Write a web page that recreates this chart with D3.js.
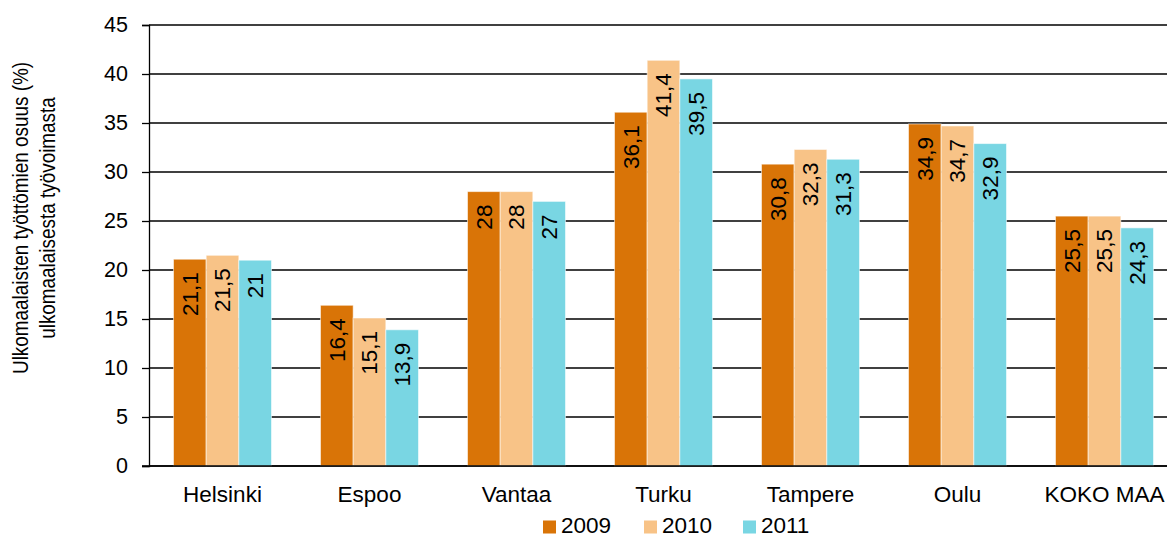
<!DOCTYPE html>
<html>
<head>
<meta charset="utf-8">
<script src="https://cdn.jsdelivr.net/npm/d3@7"></script>
<style>
  html, body { margin: 0; padding: 0; background: #fff; }
  svg { display: block; font-family: "Liberation Sans", Arial, sans-serif; }
</style>
</head>
<body>
<svg id="chart" width="1167" height="537"></svg>
<script>
const categories = ["Helsinki", "Espoo", "Vantaa", "Turku", "Tampere", "Oulu", "KOKO MAA"];
const years = ["2009", "2010", "2011"];
const values2009 = [21.1, 16.4, 28, 36.1, 30.8, 34.9, 25.5];
const values2010 = [21.5, 15.1, 28, 41.4, 32.3, 34.7, 25.5];
const values2011 = [21, 13.9, 27, 39.5, 31.3, 32.9, 24.3];
const yTicks = [0, 5, 10, 15, 20, 25, 30, 35, 40, 45];
const colors = ["#D97407", "#F8C387", "#79D6E3"];
const yTitleLines = ["Ulkomaalaisten työttömien osuus (%)", "ulkomaalaisesta työvoimasta"];

const series = [values2009, values2010, values2011];

const svg = d3.select("#chart");
const plot = { left: 149, right: 1178, top: 25, bottom: 466 };

const x0 = d3.scaleBand().domain(categories).range([plot.left, plot.right]).padding(0);
const groupW = x0.bandwidth() * 2 / 3;
const x1 = d3.scaleBand().domain(years).range([0, groupW]).padding(0);
const y = d3.scaleLinear().domain([0, 45]).range([plot.bottom, plot.top]);

// grid lines
svg.append("g").selectAll("line").data(yTicks).join("line")
  .attr("x1", plot.left).attr("x2", plot.right)
  .attr("y1", d => y(d)).attr("y2", d => y(d))
  .attr("stroke", "#000").attr("stroke-width", 1.3);

// y axis with ticks
const yAxis = d3.axisLeft(y).tickValues(yTicks).tickSize(7).tickFormat(d => d);
const gy = svg.append("g").attr("transform", `translate(${plot.left},0)`).call(yAxis);
gy.select(".domain").attr("stroke", "#000").attr("stroke-width", 1.3);
gy.selectAll(".tick line").attr("stroke", "#000").attr("stroke-width", 1.3);
gy.selectAll(".tick text")
  .attr("font-size", 21.5)
  .attr("fill", "#000")
  .attr("font-family", "Liberation Sans, Arial, sans-serif")
  .attr("x", -21);

// bars
const groups = svg.append("g").selectAll("g").data(categories).join("g")
  .attr("transform", d => `translate(${x0(d) + (x0.bandwidth() - groupW) / 2},0)`);

groups.each(function(cat, ci) {
  const g = d3.select(this);
  years.forEach((yr, si) => {
    const v = series[si][ci];
    g.append("rect")
      .attr("x", x1(yr))
      .attr("y", y(v))
      .attr("width", x1.bandwidth())
      .attr("height", y(0) - y(v))
      .attr("fill", colors[si])
      .attr("stroke", "rgba(255,255,255,0.55)")
      .attr("stroke-width", 1);
    const cx = x1(yr) + x1.bandwidth() / 2;
    g.append("text")
      .attr("transform", `translate(${cx},${y(v) + 13}) rotate(-90)`)
      .attr("text-anchor", "end")
      .attr("dy", "0.35em")
      .attr("font-size", 22.5)
      .attr("fill", "#000")
      .text(String(v).replace(".", ","));
  });
});

// x axis line
svg.append("line")
  .attr("x1", plot.left - 7).attr("x2", plot.right)
  .attr("y1", y(0)).attr("y2", y(0))
  .attr("stroke", "#000").attr("stroke-width", 1.5);

// category labels
svg.append("g").selectAll("text").data(categories).join("text")
  .attr("x", d => x0(d) + x0.bandwidth() / 2)
  .attr("y", 502)
  .attr("text-anchor", "middle")
  .attr("font-size", 22.5)
  .attr("fill", "#000")
  .text(d => d);

// y title
const yt = svg.append("text")
  .attr("transform", "translate(0,218) rotate(-90) scale(0.86,1)")
  .attr("text-anchor", "middle")
  .attr("font-size", 22)
  .attr("fill", "#000");
yTitleLines.forEach((t, i) => {
  yt.append("tspan").attr("x", 0).attr("y", 28 + i * 27).text(t);
});

// legend
const legendX = [543, 644, 743];
const lg = svg.append("g").selectAll("g").data(years).join("g")
  .attr("transform", (d, i) => `translate(${legendX[i]},0)`);
lg.append("rect").attr("x", 0).attr("y", 520.5).attr("width", 13).attr("height", 13)
  .attr("fill", (d, i) => colors[i]);
lg.append("text").attr("x", 18).attr("y", 533).attr("font-size", 22.5).attr("fill", "#000")
  .text(d => d);
</script>
</body>
</html>
